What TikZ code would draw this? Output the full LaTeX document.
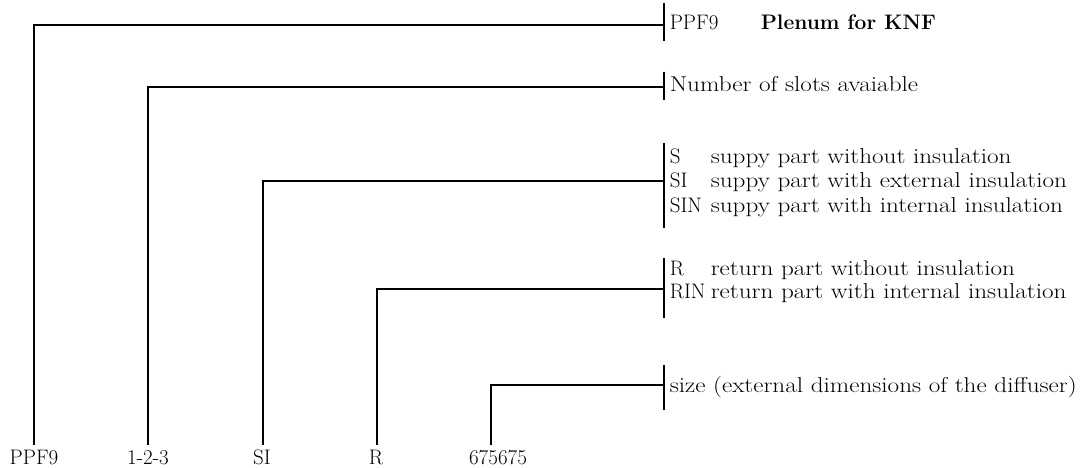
\documentclass[tikz,border=0pt]{standalone}
\usepackage{fontspec}
\setmainfont{Latin Modern Roman}[FakeStretch=1.17]
\newfontfamily\codefont{Latin Modern Roman}
\begin{document}
\begin{tikzpicture}[x=1pt,y=-1pt,line width=1.6pt,
  txt/.style={anchor=base west,inner sep=0pt,font=\fontsize{21.5}{24}\selectfont},
  code/.style={anchor=base west,inner sep=0pt,font=\codefont\fontsize{21}{24}\selectfont},
  bot/.style={anchor=base,inner sep=0pt,font=\codefont\fontsize{21}{24}\selectfont},
  head/.style={anchor=base west,inner sep=0pt,font=\codefont\fontsize{21}{24}\selectfont\bfseries},
  link/.style={line width=1.6pt}]
\useasboundingbox (0,0) rectangle (1082,468);
% bottom code labels
\node[bot] (c1) at (34,464) {PPF9};
\node[bot] (c2) at (148,464) {1-2-3};
\node[bot] (c3) at (262,464) {SI};
\node[bot] (c4) at (376,464) {R};
\node[bot] (c5) at (498,464) {675675};
\coordinate (t1) at (34,445);
\coordinate (t2) at (148,445);
\coordinate (t3) at (263,445);
\coordinate (t4) at (377,445);
\coordinate (t5) at (491,445);
% junctions on the bars
\coordinate (j1) at (664,25);
\coordinate (j2) at (664,87);
\coordinate (j3) at (664,181);
\coordinate (j4) at (664,289);
\coordinate (j5) at (664,385);
% bars
\draw[link] (664,3) -- (664,41);
\draw[link] (664,72) -- (664,100);
\draw[link] (664,143) -- (664,228);
\draw[link] (664,258) -- (664,318);
\draw[link] (664,365) -- (664,410);
% connectors
\draw[link] (t1) |- (j1);
\draw[link] (t2) |- (j2);
\draw[link] (t3) |- (j3);
\draw[link] (t4) |- (j4);
\draw[link] (t5) |- (j5);
% texts
\node[code] (p1) at (669,30) {PPF9};
\node[head] (p2) at (760,30) {Plenum for KNF};
\node[txt] (n1) at (669,92) {Number of slots avaiable};
\node[code] (s1) at (669,164) {S};
\node[txt] (s1d) at (710,164) {suppy part without insulation};
\node[code] (s2) at (669,188) {SI};
\node[txt] (s2d) at (710,188) {suppy part with external insulation};
\node[code] (s3) at (669,212) {SIN};
\node[txt] (s3d) at (710,212) {suppy part with internal insulation};
\node[code] (r1) at (669,275) {R};
\node[txt] (r1d) at (710,275) {return part without insulation};
\node[code] (r2) at (669,298) {RIN};
\node[txt] (r2d) at (710,298) {return part with internal insulation};
\node[txt] (z1) at (669,392) {size (external dimensions of the diffuser)};
\end{tikzpicture}
\end{document}
